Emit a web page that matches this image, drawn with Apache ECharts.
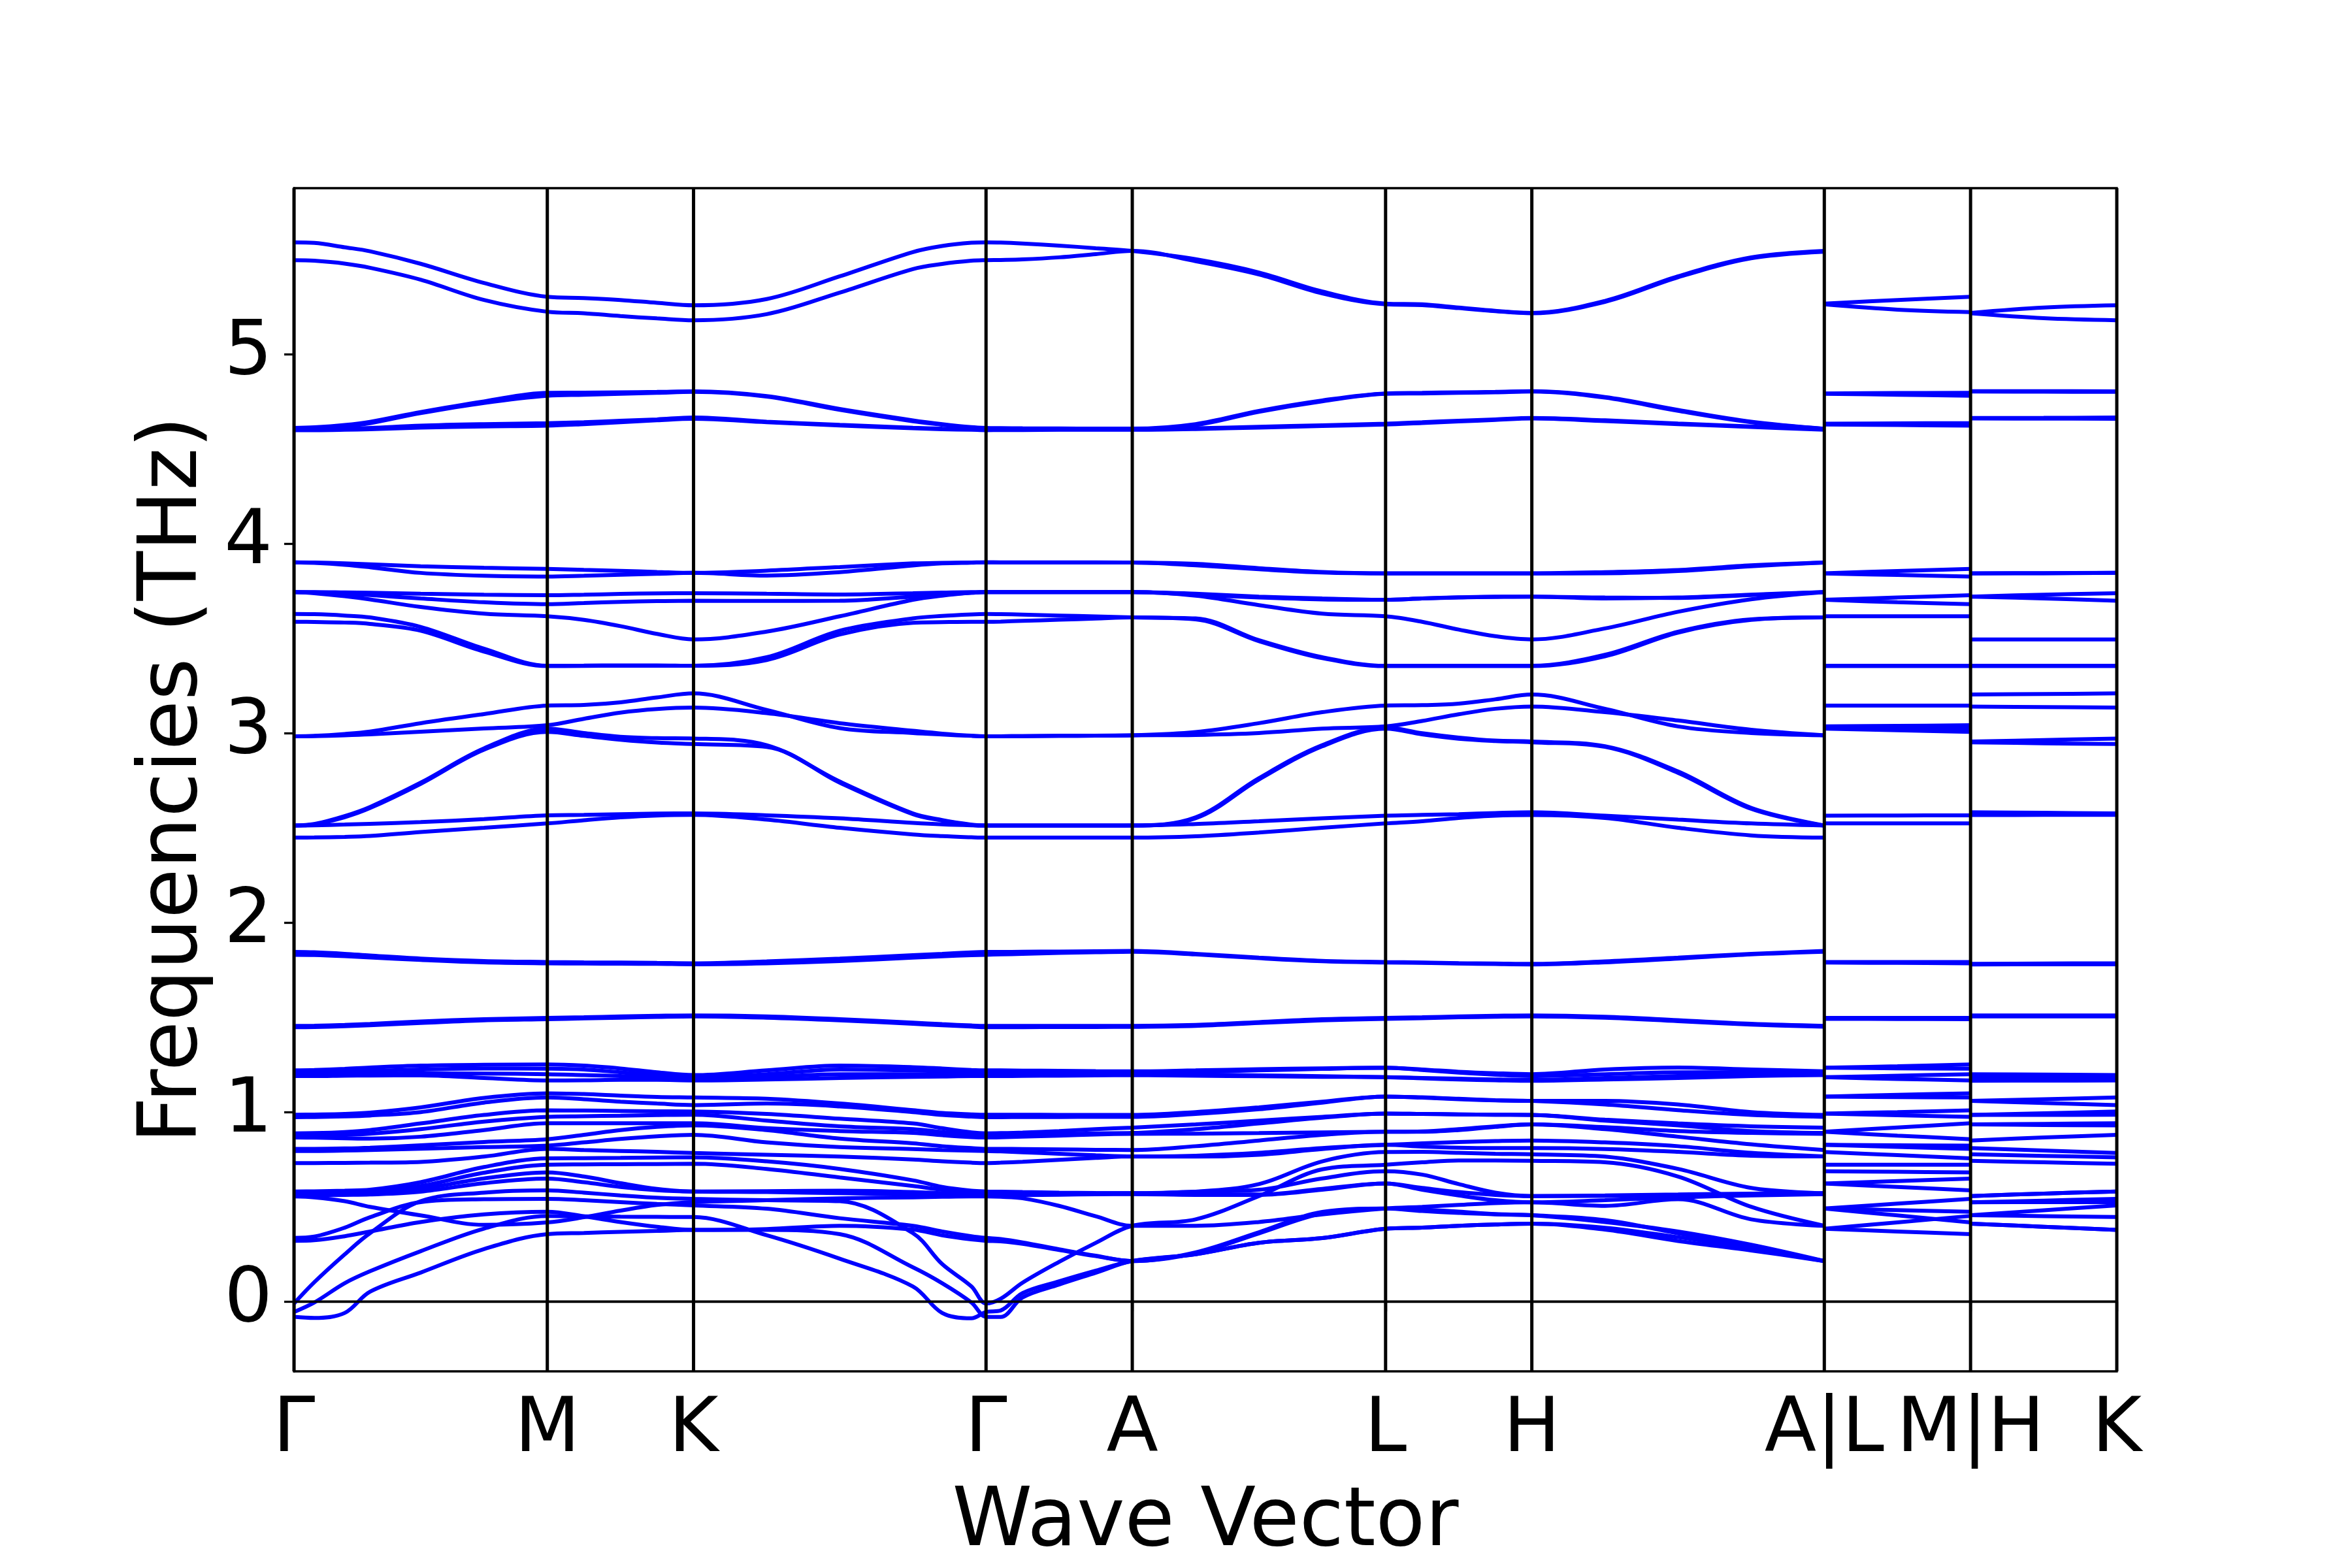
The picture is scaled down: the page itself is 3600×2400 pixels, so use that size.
<!DOCTYPE html>
<html>
<head>
<meta charset="utf-8">
<title>Phonon band structure</title>
<script src="https://cdn.jsdelivr.net/npm/echarts@6/dist/echarts.min.js"></script>
<style>
  html, body { margin: 0; padding: 0; background: #fff; }
  #chart { width: 3600px; height: 2400px; }
</style>
</head>
<body>
<div id="chart"></div>
<script>
// high-symmetry points along the path (distance, Γ-M = 1)
var tickPos = [0, 1, 1.57735, 2.73205, 3.3094, 4.3094, 4.88675, 6.04145, 6.6188, 7.19615];
var tickNames = ['Γ', 'M', 'K', 'Γ', 'A', 'L', 'H', 'A|L', 'M|H', 'K'];
var yTicks = [0, 1, 2, 3, 4, 5];
var yMin = -0.368, yMax = 5.875;

// [from tick, to tick, sample fractions read inside the segment]
var segments = [
    [0, 1, [0, 0.08, 0.2, 0.3, 0.5, 0.75, 1]],   // Γ-M
    [1, 2, [0.25, 0.5, 0.75, 1]],                // M-K
    [2, 3, [0.25, 0.5, 0.75, 0.85, 0.95, 1]],    // K-Γ
    [3, 4, [0.1, 0.25, 0.5, 0.75, 1]],           // Γ-A
    [4, 5, [0.25, 0.5, 0.75, 1]],                // A-L
    [5, 6, [0.25, 0.5, 0.75, 1]],                // L-H
    [6, 7, [0.25, 0.5, 0.75, 1]],                // H-A
    [7, 8, [0, 0.5, 1]],                         // L-M
    [8, 9, [0, 0.5, 1]]                          // H-K
];

// frequencies (THz), one row per band, one sub-array per segment above
var bandsTop = [
    [[5.589,5.586,5.563,5.542,5.476,5.375,5.302],[5.295,5.285,5.27,5.257],[5.29,5.41,5.538,5.57,5.587,5.589],[5.588,5.583,5.572,5.558,5.544],[5.50,5.43,5.33,5.266],[5.262,5.245,5.228,5.217],[5.28,5.41,5.51,5.544],[5.266,5.285,5.302],[5.217,5.245,5.257]],
    [[5.495,5.492,5.477,5.455,5.392,5.285,5.223],[5.215,5.20,5.188,5.178],[5.21,5.324,5.448,5.475,5.492,5.495],[5.496,5.499,5.51,5.527,5.544],[5.49,5.42,5.32,5.262],[5.258,5.242,5.226,5.215],[5.275,5.405,5.505,5.54],[5.262,5.234,5.221],[5.215,5.189,5.178]]
];

var bands46 = [
    [[4.61,4.613,4.625,4.642,4.694,4.75,4.795],[4.796,4.798,4.80,4.803],[4.778,4.71,4.65,4.63,4.614,4.61],[4.609,4.608,4.607,4.606,4.606],[4.63,4.70,4.755,4.792],[4.795,4.798,4.80,4.804],[4.773,4.705,4.643,4.606],[4.792,4.794,4.795],[4.804,4.804,4.803]],
    [[4.605,4.607,4.618,4.635,4.688,4.742,4.78],[4.785,4.79,4.795,4.80],[4.775,4.705,4.645,4.627,4.61,4.605],[4.605,4.605,4.605,4.605,4.605],[4.625,4.695,4.75,4.79],[4.792,4.795,4.798,4.802],[4.77,4.70,4.64,4.605],[4.79,4.785,4.78],[4.802,4.801,4.80]],
    [[4.602,4.602,4.606,4.61,4.622,4.63,4.635],[4.64,4.648,4.655,4.665],[4.643,4.626,4.611,4.606,4.603,4.602],[4.602,4.602,4.602,4.602,4.602],[4.608,4.616,4.624,4.632],[4.64,4.648,4.655,4.662],[4.65,4.633,4.618,4.603],[4.632,4.634,4.635],[4.662,4.663,4.665]],
    [[4.598,4.598,4.60,4.603,4.612,4.618,4.622],[4.63,4.64,4.65,4.658],[4.64,4.623,4.608,4.603,4.60,4.598],[4.599,4.599,4.60,4.60,4.60],[4.604,4.612,4.62,4.628],[4.636,4.644,4.652,4.66],[4.646,4.63,4.615,4.60],[4.628,4.625,4.622],[4.66,4.659,4.658]]
];

var bands37 = [
    [[3.901,3.90,3.895,3.89,3.88,3.872,3.866],[3.861,3.856,3.85,3.845],[3.857,3.876,3.895,3.898,3.90,3.901],[3.901,3.901,3.901,3.901,3.90],[3.893,3.87,3.85,3.843],[3.843,3.843,3.843,3.843],[3.849,3.86,3.885,3.90],[3.843,3.855,3.866],[3.843,3.844,3.845]],
    [[3.901,3.898,3.888,3.875,3.845,3.83,3.826],[3.83,3.835,3.84,3.845],[3.831,3.849,3.884,3.895,3.899,3.901],[3.90,3.90,3.90,3.90,3.90],[3.885,3.864,3.847,3.842],[3.842,3.842,3.842,3.842],[3.843,3.855,3.88,3.90],[3.842,3.834,3.826],[3.842,3.843,3.845]],
    [[3.744,3.744,3.742,3.74,3.735,3.73,3.727],[3.73,3.734,3.737,3.738],[3.735,3.731,3.738,3.741,3.744,3.744],[3.744,3.744,3.744,3.744,3.744],[3.735,3.72,3.71,3.703],[3.71,3.716,3.72,3.72],[3.715,3.713,3.728,3.744],[3.703,3.715,3.727],[3.72,3.73,3.738]],
    [[3.744,3.742,3.735,3.728,3.71,3.69,3.68],[3.686,3.692,3.696,3.698],[3.697,3.698,3.72,3.73,3.74,3.744],[3.744,3.744,3.744,3.744,3.744],[3.73,3.715,3.705,3.703],[3.71,3.715,3.718,3.72],[3.71,3.715,3.73,3.744],[3.703,3.69,3.68],[3.72,3.71,3.698]],
    [[3.744,3.738,3.722,3.705,3.665,3.63,3.616],[3.597,3.564,3.523,3.494],[3.535,3.616,3.703,3.725,3.74,3.744],[3.744,3.744,3.744,3.744,3.744],[3.725,3.675,3.63,3.616],[3.587,3.546,3.511,3.494],[3.552,3.64,3.706,3.744],[3.616,3.616,3.616],[3.494,3.494,3.494]],
    [[3.628,3.627,3.62,3.61,3.56,3.445,3.355],[3.356,3.357,3.357,3.355],[3.40,3.54,3.605,3.618,3.626,3.628],[3.627,3.625,3.62,3.615,3.61],[3.605,3.49,3.40,3.355],[3.355,3.355,3.355,3.355],[3.413,3.535,3.60,3.61],[3.355,3.355,3.355],[3.355,3.355,3.355]],
    [[3.587,3.586,3.583,3.576,3.54,3.43,3.353],[3.354,3.355,3.355,3.355],[3.385,3.52,3.582,3.585,3.587,3.587],[3.588,3.592,3.598,3.604,3.61],[3.60,3.485,3.395,3.353],[3.353,3.353,3.353,3.353],[3.405,3.53,3.597,3.61],[3.353,3.353,3.353],[3.353,3.353,3.353]]
];

var bands28 = [
    [[2.983,2.985,2.995,3.008,3.052,3.10,3.145],[3.148,3.162,3.188,3.209],[3.122,3.026,3.0,2.992,2.985,2.983],[2.983,2.984,2.985,2.986,2.988],[3.005,3.052,3.11,3.145],[3.147,3.155,3.178,3.203],[3.128,3.035,3.0,2.988],[3.145,3.145,3.145],[3.203,3.206,3.209]],
    [[2.983,2.984,2.988,2.993,3.007,3.024,3.041],[3.075,3.108,3.127,3.134],[3.105,3.052,3.012,2.997,2.986,2.983],[2.983,2.984,2.985,2.986,2.988],[2.99,3.0,3.023,3.035],[3.064,3.099,3.128,3.14],[3.11,3.066,3.017,2.988],[3.035,3.038,3.041],[3.14,3.137,3.134]],
    [[2.512,2.52,2.562,2.61,2.738,2.919,3.023],[3.0,2.98,2.973,2.971],[2.936,2.744,2.576,2.541,2.517,2.512],[2.512,2.512,2.512,2.512,2.512],[2.555,2.762,2.936,3.029],[2.999,2.976,2.96,2.955],[2.93,2.797,2.605,2.512],[3.029,3.026,3.023],[2.955,2.963,2.971]],
    [[2.511,2.518,2.556,2.604,2.732,2.912,3.006],[2.985,2.965,2.95,2.942],[2.927,2.738,2.572,2.538,2.515,2.511],[2.511,2.511,2.511,2.511,2.512],[2.55,2.755,2.93,3.023],[2.993,2.97,2.958,2.951],[2.927,2.79,2.60,2.511],[3.023,3.015,3.006],[2.951,2.946,2.942]],
    [[2.512,2.513,2.517,2.521,2.53,2.546,2.566],[2.568,2.572,2.575,2.576],[2.566,2.55,2.526,2.518,2.513,2.512],[2.512,2.512,2.512,2.512,2.512],[2.52,2.535,2.55,2.564],[2.568,2.572,2.578,2.582],[2.564,2.543,2.523,2.512],[2.564,2.565,2.566],[2.582,2.579,2.576]],
    [[2.448,2.449,2.452,2.457,2.478,2.50,2.523],[2.54,2.555,2.565,2.568],[2.543,2.50,2.465,2.456,2.45,2.448],[2.448,2.448,2.448,2.448,2.448],[2.455,2.475,2.50,2.523],[2.535,2.552,2.564,2.567],[2.552,2.50,2.46,2.448],[2.523,2.523,2.523],[2.567,2.568,2.568]]
];

var bands16 = [
    [[1.845,1.843,1.835,1.826,1.81,1.797,1.792],[1.79,1.789,1.787,1.785],[1.795,1.81,1.828,1.835,1.843,1.845],[1.845,1.846,1.847,1.849,1.85],[1.835,1.815,1.798,1.792],[1.789,1.786,1.784,1.782],[1.795,1.815,1.835,1.85],[1.792,1.792,1.792],[1.782,1.784,1.785]],
    [[1.83,1.829,1.823,1.816,1.803,1.79,1.785],[1.784,1.783,1.782,1.78],[1.785,1.797,1.815,1.822,1.828,1.83],[1.832,1.835,1.84,1.843,1.846],[1.832,1.812,1.796,1.789],[1.787,1.784,1.781,1.779],[1.79,1.81,1.832,1.846],[1.789,1.787,1.785],[1.779,1.78,1.78]],
    [[1.455,1.456,1.46,1.465,1.478,1.49,1.497],[1.50,1.505,1.508,1.51],[1.505,1.49,1.472,1.464,1.457,1.455],[1.455,1.455,1.455,1.455,1.455],[1.46,1.475,1.49,1.497],[1.50,1.505,1.508,1.51],[1.503,1.485,1.466,1.455],[1.497,1.497,1.497],[1.51,1.51,1.51]],
    [[1.448,1.449,1.453,1.458,1.47,1.484,1.49],[1.494,1.498,1.502,1.505],[1.498,1.484,1.466,1.458,1.451,1.448],[1.448,1.448,1.449,1.449,1.45],[1.455,1.47,1.484,1.492],[1.495,1.50,1.503,1.505],[1.498,1.48,1.462,1.45],[1.492,1.491,1.49],[1.505,1.505,1.505]]
];

var bandsLow = [
    [[1.22,1.222,1.228,1.235,1.245,1.25,1.251],[1.245,1.23,1.21,1.195],[1.22,1.245,1.237,1.23,1.222,1.22],[1.22,1.219,1.218,1.216,1.215],[1.22,1.226,1.231,1.234],[1.225,1.213,1.205,1.20],[1.225,1.235,1.225,1.215],[1.234,1.242,1.251],[1.20,1.198,1.195]],
    [[1.21,1.211,1.214,1.217,1.225,1.23,1.229],[1.225,1.21,1.195,1.184],[1.20,1.225,1.22,1.215,1.211,1.21],[1.21,1.21,1.209,1.208,1.208],[1.212,1.22,1.228,1.234],[1.222,1.208,1.197,1.19],[1.20,1.21,1.21,1.208],[1.234,1.231,1.229],[1.19,1.187,1.184]],
    [[1.20,1.20,1.20,1.202,1.205,1.203,1.20],[1.195,1.19,1.18,1.175],[1.185,1.20,1.20,1.20,1.20,1.20],[1.20,1.20,1.20,1.20,1.20],[1.198,1.194,1.189,1.184],[1.18,1.176,1.172,1.17],[1.18,1.19,1.197,1.20],[1.184,1.192,1.20],[1.17,1.173,1.175]],
    [[1.19,1.19,1.192,1.193,1.194,1.18,1.167],[1.168,1.17,1.17,1.167],[1.172,1.18,1.186,1.188,1.19,1.19],[1.19,1.191,1.192,1.194,1.195],[1.192,1.189,1.186,1.184],[1.178,1.172,1.168,1.165],[1.172,1.18,1.19,1.195],[1.184,1.175,1.167],[1.165,1.166,1.167]],
    [[0.986,0.987,0.99,0.997,1.025,1.075,1.099],[1.095,1.087,1.08,1.077],[1.07,1.045,1.01,0.995,0.988,0.986],[0.986,0.986,0.985,0.985,0.985],[1.0,1.025,1.055,1.082],[1.078,1.07,1.063,1.059],[1.059,1.04,1.0,0.985],[1.082,1.091,1.099],[1.059,1.068,1.077]],
    [[0.973,0.974,0.977,0.982,1.0,1.05,1.077],[1.068,1.055,1.045,1.037],[1.045,1.03,1.0,0.985,0.976,0.973],[0.973,0.974,0.974,0.975,0.975],[0.99,1.015,1.05,1.082],[1.076,1.068,1.062,1.059],[1.04,1.01,0.985,0.975],[1.082,1.079,1.077],[1.059,1.048,1.037]],
    [[0.888,0.889,0.895,0.905,0.94,0.985,1.009],[1.008,1.006,1.004,1.003],[0.99,0.965,0.94,0.915,0.893,0.888],[0.889,0.892,0.90,0.91,0.918],[0.935,0.955,0.975,0.992],[0.99,0.988,0.986,0.985],[0.96,0.94,0.925,0.918],[0.992,1.0,1.009],[0.985,0.994,1.003]],
    [[0.877,0.877,0.88,0.886,0.91,0.95,0.975],[0.978,0.981,0.984,0.986],[0.955,0.925,0.91,0.895,0.88,0.877],[0.878,0.88,0.884,0.888,0.89],[0.91,0.94,0.97,0.992],[0.99,0.988,0.986,0.985],[0.955,0.93,0.90,0.89],[0.992,0.983,0.975],[0.985,0.985,0.986]],
    [[0.866,0.865,0.862,0.86,0.87,0.905,0.941],[0.941,0.941,0.941,0.941],[0.915,0.90,0.89,0.878,0.868,0.866],[0.867,0.87,0.876,0.882,0.885],[0.886,0.889,0.893,0.896],[0.898,0.91,0.925,0.935],[0.92,0.90,0.89,0.885],[0.896,0.919,0.941],[0.935,0.938,0.941]],
    [[0.806,0.806,0.808,0.812,0.825,0.842,0.857],[0.88,0.905,0.922,0.93],[0.905,0.86,0.835,0.82,0.81,0.806],[0.806,0.805,0.803,0.801,0.80],[0.82,0.85,0.88,0.896],[0.896,0.905,0.922,0.935],[0.91,0.87,0.83,0.80],[0.896,0.876,0.857],[0.935,0.932,0.93]],
    [[0.795,0.795,0.797,0.80,0.807,0.815,0.823],[0.84,0.858,0.872,0.88],[0.84,0.815,0.805,0.80,0.796,0.795],[0.793,0.788,0.78,0.772,0.766],[0.77,0.785,0.81,0.827],[0.835,0.842,0.847,0.85],[0.84,0.82,0.785,0.766],[0.827,0.825,0.823],[0.85,0.866,0.88]],
    [[0.731,0.731,0.732,0.733,0.737,0.765,0.806],[0.80,0.795,0.79,0.784],[0.775,0.765,0.75,0.74,0.733,0.731],[0.733,0.738,0.748,0.758,0.766],[0.765,0.775,0.805,0.827],[0.818,0.812,0.81,0.81],[0.805,0.79,0.77,0.766],[0.827,0.816,0.806],[0.81,0.797,0.784]],
    [[0.581,0.582,0.585,0.59,0.63,0.71,0.756],[0.757,0.758,0.76,0.761],[0.74,0.70,0.64,0.605,0.585,0.581],[0.58,0.578,0.575,0.573,0.572],[0.58,0.62,0.74,0.789],[0.79,0.785,0.78,0.777],[0.765,0.70,0.60,0.572],[0.789,0.773,0.756],[0.777,0.769,0.761]],
    [[-0.01,0.102,0.249,0.361,0.53,0.575,0.587],[0.575,0.56,0.548,0.542],[0.535,0.53,0.361,0.198,0.08,-0.01],[0.015,0.10,0.21,0.31,0.40],[0.434,0.557,0.698,0.722],[0.735,0.745,0.745,0.743],[0.735,0.66,0.50,0.40],[0.722,0.722,0.722],[0.743,0.735,0.727]],
    [[0.572,0.573,0.575,0.58,0.61,0.68,0.722],[0.724,0.725,0.726,0.727],[0.70,0.655,0.61,0.59,0.575,0.572],[0.572,0.572,0.572,0.572,0.572],[0.58,0.59,0.65,0.688],[0.67,0.62,0.575,0.557],[0.56,0.565,0.57,0.572],[0.688,0.685,0.682],[0.557,0.57,0.581]],
    [[0.566,0.567,0.57,0.572,0.595,0.65,0.682],[0.66,0.625,0.595,0.581],[0.583,0.585,0.578,0.572,0.567,0.566],[0.566,0.567,0.568,0.569,0.569],[0.565,0.565,0.595,0.623],[0.60,0.578,0.563,0.557],[0.558,0.562,0.566,0.569],[0.623,0.636,0.649],[0.557,0.57,0.581]],
    [[0.56,0.561,0.563,0.565,0.58,0.625,0.649],[0.63,0.605,0.588,0.581],[0.578,0.572,0.566,0.563,0.561,0.56],[0.561,0.562,0.564,0.566,0.567],[0.563,0.563,0.59,0.623],[0.59,0.56,0.535,0.524],[0.535,0.55,0.56,0.567],[0.623,0.605,0.587],[0.524,0.533,0.542]],
    [[0.555,0.55,0.53,0.50,0.455,0.405,0.418],[0.445,0.48,0.51,0.525],[0.535,0.545,0.55,0.553,0.555,0.555],[0.553,0.545,0.505,0.45,0.40],[0.40,0.42,0.46,0.491],[0.50,0.51,0.52,0.524],[0.505,0.54,0.434,0.40],[0.491,0.517,0.542],[0.524,0.525,0.525]],
    [[0.336,0.343,0.39,0.445,0.525,0.54,0.542],[0.535,0.525,0.515,0.508],[0.49,0.44,0.40,0.37,0.345,0.336],[0.33,0.312,0.276,0.242,0.214],[0.26,0.366,0.473,0.491],[0.485,0.475,0.462,0.456],[0.42,0.37,0.30,0.214],[0.491,0.483,0.474],[0.456,0.482,0.508]],
    [[0.321,0.324,0.345,0.37,0.42,0.46,0.474],[0.45,0.42,0.395,0.378],[0.383,0.40,0.38,0.35,0.328,0.321],[0.318,0.305,0.272,0.24,0.214],[0.255,0.36,0.465,0.491],[0.478,0.468,0.46,0.456],[0.43,0.36,0.29,0.214],[0.491,0.455,0.418],[0.456,0.451,0.446]],
    [[-0.055,-0.005,0.097,0.16,0.266,0.385,0.452],[0.45,0.448,0.447,0.446],[0.35,0.226,0.08,-0.06,-0.088,-0.055],[-0.047,0.045,0.107,0.163,0.214],[0.25,0.31,0.335,0.384],[0.39,0.40,0.407,0.411],[0.38,0.32,0.27,0.214],[0.384,0.37,0.356],[0.411,0.395,0.378]],
    [[-0.08,-0.086,-0.06,0.052,0.153,0.277,0.356],[0.362,0.368,0.373,0.378],[0.378,0.356,0.181,0.097,-0.005,-0.08],[-0.081,0.022,0.09,0.152,0.214],[0.25,0.31,0.335,0.384],[0.39,0.40,0.407,0.411],[0.39,0.34,0.28,0.214],[0.384,0.418,0.452],[0.411,0.395,0.378]]
];

var allBands = bandsTop.concat(bands46, bands37, bands28, bands16, bandsLow);

// turn one band into 3 continuous pieces: main path, L-M, H-K
function bandPieces(band) {
    var main = [], extra = [];
    for (var s = 0; s < segments.length; s++) {
        var a = tickPos[segments[s][0]], b = tickPos[segments[s][1]], fr = segments[s][2];
        if (band[s].length !== fr.length) console.warn('length mismatch', s, band);
        var pts = fr.map(function (f, k) { return [a + f * (b - a), band[s][k]]; });
        if (s < 7) main = main.concat(pts); else extra.push(pts);
    }
    return [main].concat(extra);
}

var series = [];
allBands.forEach(function (band) {
    bandPieces(band).forEach(function (pts) {
        series.push({
            type: 'line', data: pts, smooth: 0.35, symbol: 'none', silent: true,
            lineStyle: {color: '#0000ff', width: 6}, z: 2
        });
    });
});

// black guide lines at each high-symmetry point, and the zero line
tickPos.forEach(function (x) {
    series.push({
        type: 'line', data: [[x, yMin], [x, yMax]], symbol: 'none', silent: true, clip: false,
        lineStyle: {color: '#000', width: 5}, z: 5
    });
});
series.push({
    type: 'line', data: [[tickPos[0], 0], [tickPos[tickPos.length - 1], 0]], symbol: 'none', silent: true,
    lineStyle: {color: '#000', width: 3.5}, z: 5
});

var font = 'DejaVu Sans';
var mychart = echarts.init(document.getElementById('chart'));

var option = {
    backgroundColor: '#fff',
    animation: false,
    grid: {
        left: 450, right: 360, top: 288, bottom: 264,
        show: true, borderColor: '#000', borderWidth: 3.3, backgroundColor: 'transparent'
    },
    xAxis: {
        type: 'value', min: tickPos[0], max: tickPos[tickPos.length - 1],
        name: 'Wave Vector', nameLocation: 'middle', nameGap: 172,
        nameTextStyle: {fontFamily: font, fontSize: 124, color: '#000'},
        axisLine: {show: true, lineStyle: {color: '#000', width: 3.3}},
        axisTick: {show: true, customValues: tickPos, length: 15, lineStyle: {color: '#000', width: 3.3}},
        axisLabel: {
            show: true, customValues: tickPos, margin: 34, hideOverlap: false,
            fontFamily: font, fontSize: 116, color: '#000',
            formatter: function (v) {
                for (var i = 0; i < tickPos.length; i++) {
                    if (Math.abs(tickPos[i] - v) < 1e-6) return tickNames[i];
                }
                return '';
            }
        },
        splitLine: {show: false}
    },
    yAxis: {
        type: 'value', min: yMin, max: yMax,
        name: 'Frequencies (THz)', nameLocation: 'middle', nameGap: 120, nameRotate: 90,
        nameTextStyle: {fontFamily: font, fontSize: 124, color: '#000'},
        axisLine: {show: true, lineStyle: {color: '#000', width: 3.3}},
        axisTick: {show: true, customValues: yTicks, length: 15, lineStyle: {color: '#000', width: 3.3}},
        axisLabel: {
            show: true, customValues: yTicks, margin: 33,
            fontFamily: font, fontSize: 116, color: '#000'
        },
        splitLine: {show: false}
    },
    series: series
};

mychart.setOption(option);
</script>
</body>
</html>
